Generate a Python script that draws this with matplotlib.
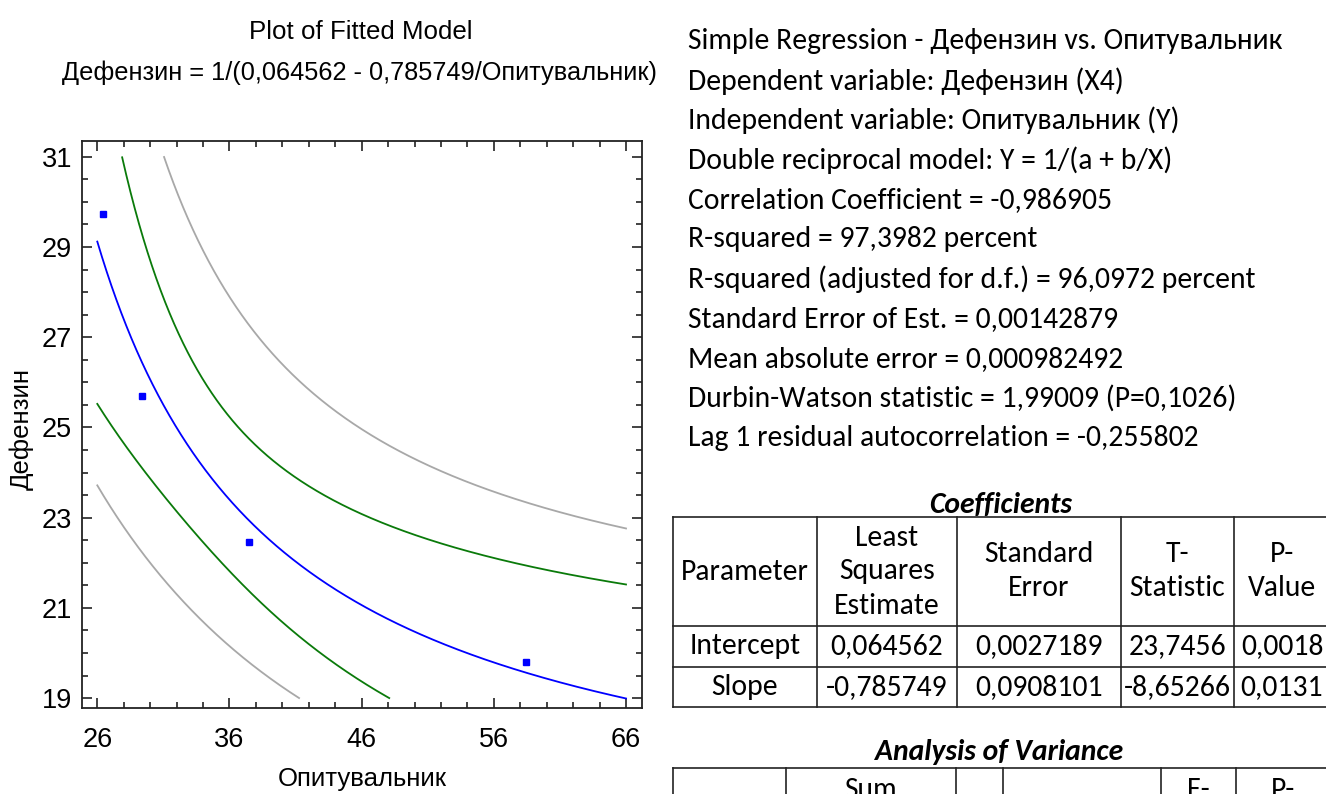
import numpy as np
import matplotlib
matplotlib.use("Agg")
import matplotlib.pyplot as plt
from matplotlib import font_manager as fm, ft2font
from matplotlib.ticker import MultipleLocator

# ---- observed data (Опитувальник, Дефензин) ----
x_obs = [26.45, 29.4, 37.5, 58.4]
y_obs = [29.73, 25.69, 22.47, 19.80]

# ---- fitted double reciprocal model: Y = 1/(a + b/X) ----
coef_a = 0.064562
coef_b = -0.785749
se_est = 0.00142879
se_a = 0.0027189
se_b = 0.0908101
t_crit = 4.302653  # Student t, 95 %, 2 d.f.

x_range = [26, 66]
band_limits = [19, 31]

x_ticks_major = [26, 36, 46, 56, 66]
y_ticks_major = [19, 21, 23, 25, 27, 29, 31]

summary_lines = [
    "Simple Regression - Дефензин vs. Опитувальник",
    "Dependent variable: Дефензин (X4)",
    "Independent variable: Опитувальник (Y)",
    "Double reciprocal model: Y = 1/(a + b/X)",
    "Correlation Coefficient = -0,986905",
    "R-squared = 97,3982 percent",
    "R-squared (adjusted for d.f.) = 96,0972 percent",
    "Standard Error of Est. = 0,00142879",
    "Mean absolute error = 0,000982492",
    "Durbin-Watson statistic = 1,99009 (P=0,1026)",
    "Lag 1 residual autocorrelation = -0,255802",
]

coef_header = [["Parameter"], ["Least", "Squares", "Estimate"],
               ["Standard", "Error"], ["T-", "Statistic"], ["P-", "Value"]]
coef_rows = [
    ["Intercept", "0,064562", "0,0027189", "23,7456", "0,0018"],
    ["Slope", "-0,785749", "0,0908101", "-8,65266", "0,0131"],
]
# first header line of the analysis of variance table (bottom edge of page)
anova_header_top = ["", "Sum", "", "", "F-", "P-"]


def has_glyphs(family, text):
    try:
        path = fm.findfont(fm.FontProperties(family=family),
                           fallback_to_default=False)
    except Exception:
        return False
    cmap = ft2font.FT2Font(path).get_charmap()
    return all(ord(c) in cmap for c in text)


def pick_family(candidates, sample):
    for fam in candidates:
        if has_glyphs(fam, sample):
            return fam
    return "DejaVu Sans"


plot_font = [pick_family(["Liberation Sans", "Arial"], "ДефзинОпитувальк"), "DejaVu Sans"]
text_font = [pick_family(["Carlito", "Lato", "Noto Sans", "Open Sans"], "ДефзинОпитувальк"),
             "DejaVu Sans"]
TXT = 21.3

W, H = 1326, 794
fig = plt.figure(figsize=(W / 100, H / 100), dpi=100)
fig.patch.set_facecolor("white")

# ---- main plot ----
L, R, T, B = 81.7, 642.0, 141.0, 708.0
ax = fig.add_axes([L / W, 1 - B / H, (R - L) / W, (B - T) / H])

xs = np.linspace(x_range[0], x_range[1], 4000)
u = 1.0 / xs
n_obs = len(x_obs)
sxx = (se_est / se_b) ** 2
u_bar = np.sqrt(((se_a / se_est) ** 2 - 1.0 / n_obs) * sxx)
v_fit = coef_a + coef_b * u
lev = 1.0 / n_obs + (u - u_bar) ** 2 / sxx
half_conf = t_crit * se_est * np.sqrt(lev)
half_pred = t_crit * se_est * np.sqrt(1.0 + lev)


def clipped(y):
    y = np.array(y, dtype=float)
    y[(y < band_limits[0]) | (y > band_limits[1])] = np.nan
    return y


y_fit = 1.0 / v_fit
pred_hi = clipped(1.0 / (v_fit - half_pred))
pred_lo = clipped(1.0 / (v_fit + half_pred))
conf_hi = clipped(1.0 / (v_fit - half_conf))
conf_lo = clipped(1.0 / (v_fit + half_conf))

gray, green, blue = "#a8a8a8", "#0a7a0a", "#0000ff"
ax.plot(xs, pred_hi, color=gray, lw=1.3)
ax.plot(xs, pred_lo, color=gray, lw=1.3)
ax.plot(xs, conf_hi, color=green, lw=1.3)
ax.plot(xs, conf_lo, color=green, lw=1.3)
ax.plot(xs, y_fit, color=blue, lw=1.3)
ax.plot(x_obs, y_obs, linestyle="none", marker="s", ms=4.2,
        mfc=blue, mec=blue)

ax.set_xlim(24.82, 67.21)
ax.set_ylim(18.78, 31.35)
ax.set_xticks(x_ticks_major)
ax.set_yticks(y_ticks_major)
ax.xaxis.set_minor_locator(MultipleLocator(2))
ax.yaxis.set_minor_locator(MultipleLocator(0.5))
ax.tick_params(which="both", direction="in", top=True, right=True,
               width=1.2, color="#222222")
ax.tick_params(which="major", length=7.5)
ax.tick_params(which="minor", length=4.2)
ax.tick_params(axis="x", which="major", pad=14)
ax.tick_params(axis="y", which="major", pad=7)
for lab in ax.get_xticklabels() + ax.get_yticklabels():
    lab.set_family(plot_font)
    lab.set_fontsize(19.5)
for sp in ax.spines.values():
    sp.set_linewidth(1.3)
    sp.set_color("#222222")

# ---- overlay in pixel coordinates for titles, labels, text and tables ----
ov = fig.add_axes([0, 0, 1, 1], zorder=5)
ov.set_xlim(0, W)
ov.set_ylim(H, 0)
ov.axis("off")
ov.patch.set_alpha(0)

ov.text(361, 32, "Plot of Fitted Model", ha="center", va="center",
        family=plot_font, fontsize=18.6)
fmt = lambda v: f"{v:.6f}".replace(".", ",")
ov.text(360, 73,
        f"Дефензин = 1/({fmt(coef_a)} - {fmt(-coef_b)}/Опитувальник)",
        ha="center", va="center", family=plot_font, fontsize=18.3)
ov.text(362, 779, "Опитувальник", ha="center", va="center",
        family=plot_font, fontsize=18.5)
ov.text(22, 429, "Дефензин", ha="center", va="center", rotation=90,
        family=plot_font, fontsize=18.5)

# summary statistics
for i, line in enumerate(summary_lines):
    ov.text(688, 41 + i * 39.7, line, ha="left", va="center",
            family=text_font, fontsize=TXT)

line_kw = dict(color="#222222", lw=1.2, solid_capstyle="projecting")


def grid_lines(xcols, yrows):
    for xc in xcols:
        ov.plot([xc, xc], [yrows[0], yrows[-1]], **line_kw)
    for yr in yrows:
        ov.plot([xcols[0], xcols[-1]], [yr, yr], **line_kw)


# coefficients table
ov.text(1001, 505, "Coefficients", ha="center", va="center",
        family=text_font, fontsize=TXT, weight="bold", style="italic")
c_cols = [673, 817, 957, 1121, 1234, 1330]
c_rows = [517, 626, 666.5, 707]
grid_lines(c_cols, c_rows)
step = 34
for j, lines in enumerate(coef_header):
    cx = (c_cols[j] + c_cols[j + 1]) / 2
    cy = (c_rows[0] + c_rows[1]) / 2
    y0 = cy - step * (len(lines) - 1) / 2
    for k, s in enumerate(lines):
        ov.text(cx, y0 + k * step, s, ha="center", va="center",
                family=text_font, fontsize=TXT)
for r, row in enumerate(coef_rows):
    cy = (c_rows[r + 1] + c_rows[r + 2]) / 2
    for j, s in enumerate(row):
        cx = (c_cols[j] + c_cols[j + 1]) / 2
        ov.text(cx, cy, s, ha="center", va="center",
                family=text_font, fontsize=TXT)

# analysis of variance table (header row begins at the page edge)
ov.text(999, 752, "Analysis of Variance", ha="center", va="center",
        family=text_font, fontsize=TXT, weight="bold", style="italic")
a_cols = [673, 786, 956, 1003, 1160.6, 1236, 1330]
grid_lines(a_cols, [768, 900])
for j, s in enumerate(anova_header_top):
    if s:
        cx = (a_cols[j] + a_cols[j + 1]) / 2
        ov.text(cx, 790, s, ha="center", va="center",
                family=text_font, fontsize=TXT)

fig.savefig("out.png", dpi=100, facecolor="white")
